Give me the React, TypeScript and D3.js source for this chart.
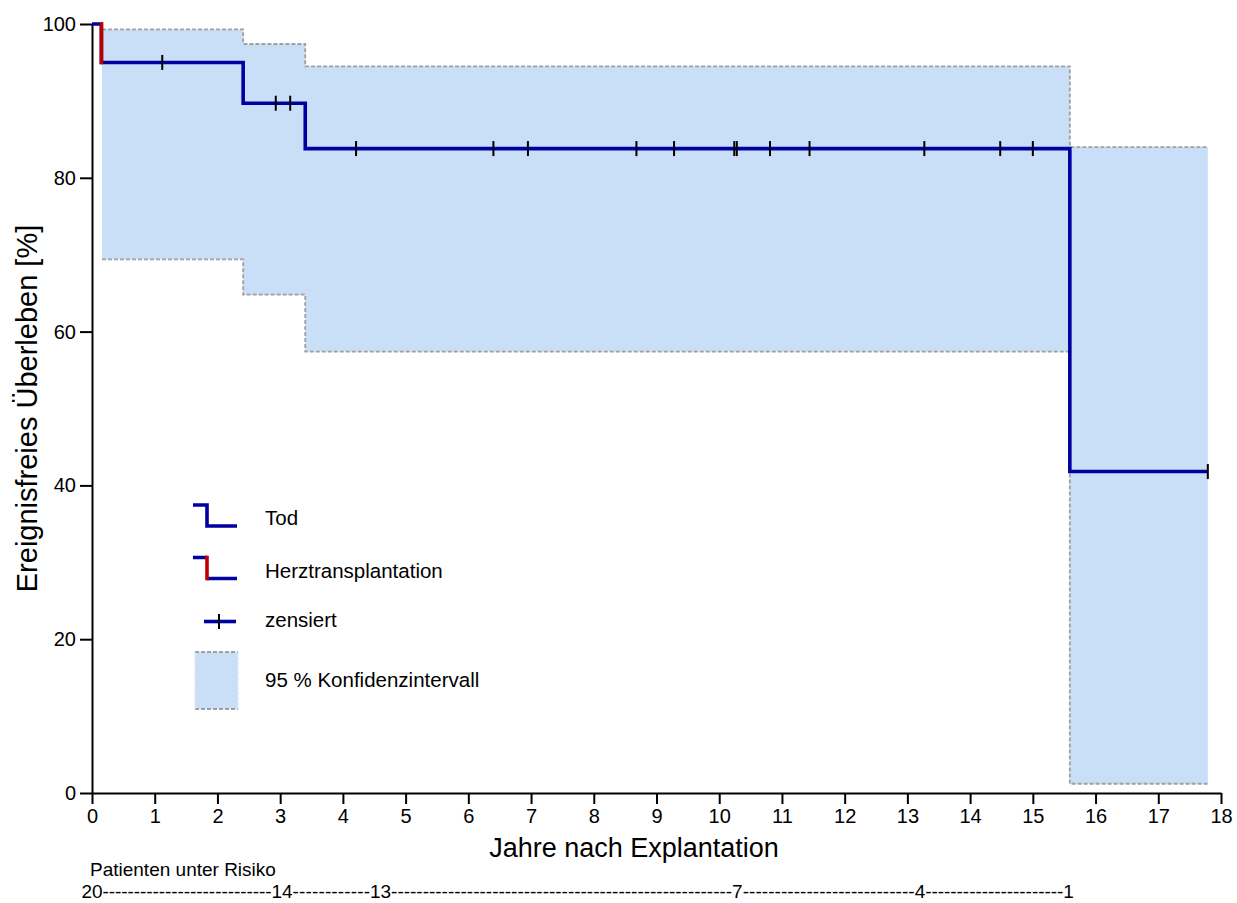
import React, { useEffect, useRef } from 'react';
import * as d3 from 'd3';

// Kaplan-Meier step data (years, percent)
const stepTimes = [0, 0.15, 2.41, 3.40, 15.59];
const stepSurvival = [100, 95, 89.7, 83.8, 41.8];
const eventTypes = ['start', 'htx', 'death', 'death', 'death'];
const followUpEnd = 17.79;

const censoredTimes = [1.12, 2.93, 3.16, 4.21, 6.40, 6.95, 8.68, 9.28, 10.24, 10.28, 10.81, 11.44, 13.27, 14.48, 15.0, 17.79];

// 95% confidence band
const ciTimes = [0.16, 2.41, 3.40, 15.59];
const ciUpper = [99.3, 97.4, 94.5, 84.0];
const ciLower = [69.4, 64.8, 57.4, 1.2];

// patients at risk row
const riskTimes = [0, 3.03, 4.6, 10.29, 13.2, 15.57];
const riskCounts = [20, 14, 13, 7, 4, 1];

const xTicks = d3.range(0, 19);
const yTicks = [0, 20, 40, 60, 80, 100];

const BLUE = '#0000a0';
const RED = '#c00000';
const FILL = '#c9def7';
const GREY = '#a0a0a0';
const FONT = '"Liberation Sans", Arial, Helvetica, sans-serif';

const App = () => {
  const ref = useRef(null);

  useEffect(() => {
    if (ref.current) draw(ref.current);
  }, []);

  return (
    <svg
      ref={ref}
      width={1237}
      height={903}
      style={{ position: 'absolute', left: 0, top: 0, background: '#fff' }}
    />
  );
};

function survivalAt(t) {
  let v = stepSurvival[0];
  for (let i = 0; i < stepTimes.length; i++) if (stepTimes[i] <= t) v = stepSurvival[i];
  return v;
}

function draw(node) {
  const svg = d3.select(node);
  svg.selectAll('*').remove();

  const x = d3.scaleLinear().domain([0, 18]).range([92, 1221]);
  const y = d3.scaleLinear().domain([0, 100]).range([793, 24]);

  // confidence band
  const ciPts = ciTimes.map((t, i) => ({ t, u: ciUpper[i], l: ciLower[i] }));
  ciPts.push({ t: followUpEnd, u: ciUpper[ciUpper.length - 1], l: ciLower[ciLower.length - 1] });

  svg.append('path')
    .datum(ciPts)
    .attr('fill', FILL)
    .attr('d', d3.area().curve(d3.curveStepAfter).x(d => x(d.t)).y0(d => y(d.l)).y1(d => y(d.u)));

  ['u', 'l'].forEach(k => {
    svg.append('path')
      .datum(ciPts)
      .attr('fill', 'none')
      .attr('stroke', GREY)
      .attr('stroke-width', 1.8)
      .attr('stroke-dasharray', '4,2')
      .attr('d', d3.line().curve(d3.curveStepAfter).x(d => x(d.t)).y(d => y(d[k])));
  });

  // axes
  const xAxis = svg.append('g')
    .attr('transform', `translate(0,${y(0)})`)
    .call(d3.axisBottom(x).tickValues(xTicks).tickSize(11).tickSizeOuter(0).tickPadding(5));
  const yAxis = svg.append('g')
    .attr('transform', `translate(${x(0)},0)`)
    .call(d3.axisLeft(y).tickValues(yTicks).tickSize(12).tickSizeOuter(0).tickPadding(4));
  [xAxis, yAxis].forEach(g => {
    g.selectAll('path, line').attr('stroke', '#000').attr('stroke-width', 2);
    g.selectAll('text').attr('fill', '#000').style('font-family', FONT).style('font-size', '20px');
  });

  // survival curve
  const kmPts = stepTimes.map((t, i) => ({ t, s: stepSurvival[i] }));
  kmPts.push({ t: followUpEnd, s: stepSurvival[stepSurvival.length - 1] });
  svg.append('path')
    .datum(kmPts)
    .attr('fill', 'none')
    .attr('stroke', BLUE)
    .attr('stroke-width', 3.6)
    .attr('stroke-linejoin', 'miter')
    .attr('d', d3.line().curve(d3.curveStepAfter).x(d => x(d.t)).y(d => y(d.s)));

  // heart transplant drops in red
  stepTimes.forEach((t, i) => {
    if (eventTypes[i] !== 'htx') return;
    svg.append('line')
      .attr('x1', x(t)).attr('x2', x(t))
      .attr('y1', y(stepSurvival[i - 1]) - 1.8).attr('y2', y(stepSurvival[i]) + 1.8)
      .attr('stroke', RED)
      .attr('stroke-width', 3.6);
  });

  // censor marks
  svg.selectAll('.cens')
    .data(censoredTimes)
    .enter().append('line')
    .attr('x1', d => x(d)).attr('x2', d => x(d))
    .attr('y1', d => y(survivalAt(d)) - 7.5)
    .attr('y2', d => y(survivalAt(d)) + 7.5)
    .attr('stroke', '#000')
    .attr('stroke-width', 2);

  // axis titles
  svg.append('text')
    .attr('x', 634).attr('y', 857)
    .attr('text-anchor', 'middle')
    .style('font-family', FONT).style('font-size', '27px')
    .text('Jahre nach Explantation');

  svg.append('text')
    .attr('transform', `translate(37,${(y(0) + y(100)) / 2}) rotate(-90)`)
    .attr('text-anchor', 'middle')
    .style('font-family', FONT).style('font-size', '29px')
    .text('Ereignisfreies Überleben [%]');

  // legend
  const lg = svg.append('g');
  const lw = 3.6;
  lg.append('path')
    .attr('d', 'M193,505 H207 V526 H237')
    .attr('fill', 'none').attr('stroke', BLUE).attr('stroke-width', lw);
  lg.append('path')
    .attr('d', 'M193,557.5 H207 M207,578.5 H237')
    .attr('fill', 'none').attr('stroke', BLUE).attr('stroke-width', lw);
  lg.append('line')
    .attr('x1', 207).attr('x2', 207).attr('y1', 555.7).attr('y2', 580.3)
    .attr('stroke', RED).attr('stroke-width', lw);
  lg.append('line')
    .attr('x1', 204).attr('x2', 236).attr('y1', 621.5).attr('y2', 621.5)
    .attr('stroke', BLUE).attr('stroke-width', lw);
  lg.append('line')
    .attr('x1', 219).attr('x2', 219).attr('y1', 614).attr('y2', 629)
    .attr('stroke', '#000').attr('stroke-width', 2);
  lg.append('rect')
    .attr('x', 195).attr('y', 652).attr('width', 43).attr('height', 57)
    .attr('fill', FILL);
  [652, 709].forEach(yy => {
    lg.append('line')
      .attr('x1', 195).attr('x2', 238).attr('y1', yy).attr('y2', yy)
      .attr('stroke', GREY).attr('stroke-width', 1.8).attr('stroke-dasharray', '4,2');
  });
  [195, 238].forEach(xx => {
    lg.append('line')
      .attr('x1', xx).attr('x2', xx).attr('y1', 652).attr('y2', 709)
      .attr('stroke', '#dde8f6').attr('stroke-width', 1.5).attr('stroke-dasharray', '3,2');
  });
  const labels = ['Tod', 'Herztransplantation', 'zensiert', '95 % Konfidenzintervall'];
  const baselines = [525, 578, 627, 687];
  labels.forEach((t, i) => {
    lg.append('text')
      .attr('x', 265).attr('y', baselines[i])
      .style('font-family', FONT).style('font-size', '20.5px')
      .text(t);
  });

  // patients at risk
  svg.append('text')
    .attr('x', 90).attr('y', 876)
    .style('font-family', FONT).style('font-size', '19px')
    .text('Patienten unter Risiko');

  const riskY = 898;
  const numW = riskCounts.map(c => String(c).length * 0.556 * 19);
  riskTimes.forEach((t, i) => {
    svg.append('text')
      .attr('x', x(t)).attr('y', riskY)
      .attr('text-anchor', 'middle')
      .style('font-family', FONT).style('font-size', '19px')
      .text(riskCounts[i]);
    if (i < riskTimes.length - 1) {
      const x0 = x(t) + numW[i] / 2;
      const x1 = x(riskTimes[i + 1]) - numW[i + 1] / 2;
      const n = Math.max(1, Math.round((x1 - x0) / (0.333 * 19)));
      svg.append('text')
        .attr('x', x0).attr('y', riskY)
        .attr('textLength', x1 - x0)
        .attr('lengthAdjust', 'spacing')
        .style('font-family', FONT).style('font-size', '19px')
        .text('-'.repeat(n));
    }
  });
}

export default App;
